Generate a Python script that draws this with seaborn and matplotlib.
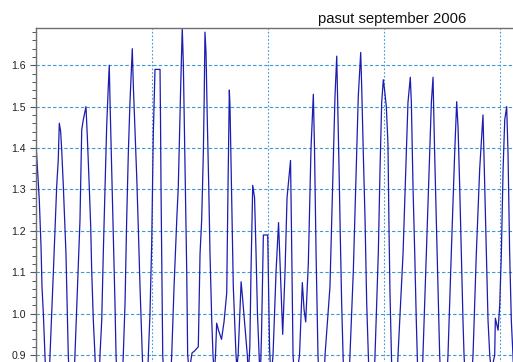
import matplotlib
matplotlib.use("Agg")
import matplotlib.pyplot as plt
from matplotlib.ticker import MultipleLocator, NullFormatter
import seaborn as sns
import pandas as pd

# ---- data (hours since 1 Sep 2006, water level in m) ----
hours = [0, 1.3, 3.4, 5.2, 6.2, 7.6, 9.3, 11.9, 14.5, 17.9, 21.4, 23.0, 24.1, 25.5, 26.6, 28.3,
         29.7, 31.0, 32.4, 33.4, 36.9, 40.3, 45.5, 47.3, 48.9, 51.7, 53.1, 55.1, 56.6, 57.6,
         59.3, 61.0, 63.6, 66.2, 68.0, 69.6, 71.4, 73.1, 74.8, 75.8, 76.6, 78.3, 80.0, 81.7,
         82.8, 86.5, 90.3, 92.1, 93.8, 95.5, 97.2, 99.6, 100.7, 104.2, 105.8, 107.6, 110.0,
         113.0, 116.2, 117.9, 119.7, 121.3, 123.1, 128.3, 128.8, 129.3, 130.0, 131.1, 135.8,
         140.4, 142.8, 145.6, 147.2, 149.7, 151.3, 152.4, 153.4, 154.5, 155.9, 156.9, 158.5,
         161.4, 164.5, 167.9, 169.7, 171.4, 173.1, 174.0, 174.8, 175.9, 177.2, 178.7, 180.0,
         181.8, 183.1, 184.4, 185.7, 186.9, 188.8, 191.9, 194.5, 197.3, 198.6, 200.0, 200.7,
         201.7, 202.8, 204.1, 206.9, 207.8, 209.1, 212.2, 213.6, 215.7, 218.6, 219.6, 221.2,
         222.4, 224.2, 226.1, 227.6, 229.1, 230.7, 232.0, 233.3, 235.2, 239.7, 240.3, 241.6,
         243.0, 245.2, 248.3, 250.9, 252.5, 255.2, 257.6, 259.7, 261.7, 263.3, 264.3, 265.9,
         268.0, 272.6, 275.5, 277.3, 279.0, 281.7, 284.5, 286.9, 288.1, 289.7, 291.7, 295.5,
         299.0, 304.1, 305.9, 307.6, 309.3, 311.1, 312.1, 313.5, 314.8, 316.2, 317.6, 321.0,
         324.8, 328.3, 331.8, 333.4, 335.9, 336.9, 338.6, 340.4, 342.1, 343.8, 347.0, 350.7,
         354.1, 355.9, 357.6, 359.3, 360.6, 362.4, 364.1, 365.2, 366.2, 367.6, 371.0, 374.5,
         379.7, 383.1, 384.8, 387.2, 388.3, 390.0, 391.8, 393.4, 394.4, 397.0, 400.3, 403.8,
         407.3, 409.0, 410.7, 412.4, 414.1, 415.9, 417.6, 421.5, 426.2, 429.6, 433.1, 435.2,
         436.6, 438.3, 440.0, 441.7, 442.8, 447.0, 452.1, 455.5, 459.0, 462.4, 464.2, 465.9,
         467.6, 469.4, 471.0, 474.5, 475.2, 478.0, 479.7, 481.4, 483.2, 484.9, 486.9, 488.3,
         490.0, 491.7, 493.4, 496.0]
level = [1.41, 1.36, 1.275, 1.162, 1.065, 1.0, 0.9, 0.72, 0.9, 1.097, 1.307, 1.371, 1.46, 1.44, 1.395, 1.307,
         1.226, 1.145, 1.0, 0.9, 0.7, 0.9, 1.226, 1.444, 1.468, 1.50, 1.427, 1.307, 1.21, 1.105,
         0.984, 0.9, 0.7, 0.9, 0.984, 1.145, 1.307, 1.452, 1.55, 1.60, 1.51, 1.35, 1.186, 1.025,
         0.9, 0.68, 0.9, 1.025, 1.226, 1.387, 1.51, 1.64, 1.55, 1.33, 1.21, 1.065, 0.9,
         0.66, 0.9, 1.0, 1.17, 1.43, 1.59, 1.59, 1.47, 1.31, 1.145, 0.9, 0.66,
         0.9, 1.065, 1.226, 1.307, 1.55, 1.69, 1.605, 1.468, 1.307, 1.105, 0.9, 0.86,
         0.905, 0.911, 0.92, 1.145, 1.227, 1.387, 1.52, 1.68, 1.63, 1.468, 1.307, 1.145,
         0.984, 0.9, 0.85, 0.9, 0.977, 0.96, 0.938, 0.98, 1.05, 1.3, 1.54, 1.50,
         1.371, 1.226, 1.065, 0.9, 0.87, 0.9, 1.077, 1.04, 0.98, 0.9, 0.85, 0.92,
         1.1, 1.31, 1.28, 1.15, 1.0, 0.9, 0.84, 0.95, 1.19, 1.19, 1.1, 0.92,
         0.84, 0.9, 1.1, 1.22, 1.12, 0.95, 1.1, 1.28, 1.33, 1.37, 1.2, 0.9,
         0.82, 0.9, 1.075, 1.01, 0.98, 1.12, 1.4, 1.53, 1.4, 1.15, 0.9, 0.68,
         0.9, 1.065, 1.226, 1.387, 1.525, 1.622, 1.51, 1.35, 1.186, 1.025, 0.9, 0.66,
         0.9, 1.105, 1.387, 1.525, 1.631, 1.55, 1.387, 1.226, 1.025, 0.9, 0.66, 0.9,
         1.145, 1.35, 1.51, 1.565, 1.54, 1.5, 1.41, 1.2, 1.05, 0.9, 0.66, 0.9,
         1.145, 1.387, 1.51, 1.571, 1.51, 1.307, 1.145, 0.984, 0.9, 0.68, 0.9, 1.145,
         1.387, 1.51, 1.571, 1.387, 1.226, 1.065, 0.9, 0.68, 0.9, 1.145, 1.387, 1.512,
         1.45, 1.307, 1.145, 0.984, 0.9, 0.7, 0.9, 1.145, 1.35, 1.48, 1.307, 1.145,
         0.984, 0.9, 0.86, 0.9, 0.989, 0.96, 1.02, 1.145, 1.35, 1.468, 1.50, 1.387,
         1.145, 0.984, 0.9, 0.7]
title_text = "pasut september 2006"
y_major_ticks = [0.9, 1.0, 1.1, 1.2, 1.3, 1.4, 1.5, 1.6]
y_tick_labels = ["0.9", "1.0", "1.1", "1.2", "1.3", "1.4", "1.5", "1.6"]
x_grid_hours = [0, 120, 240, 360, 480, 600, 720]

df = pd.DataFrame({"hour": hours, "level": level})

sns.set_theme(style="white")
plt.rcParams["font.family"] = ["Liberation Sans", "DejaVu Sans"]

W, H = 513, 362
fig = plt.figure(figsize=(W / 100, H / 100), dpi=100)

# axes extends beyond the right and bottom edges of the picture (cropped original)
px_per_hour = 116 / 120
px_per_unit = 414.0
ylo, yhi = 0.5, 1.69
xlo, xhi = 0, 744
ax_left, ax_top = 36, 28
ax_w = (xhi - xlo) * px_per_hour
ax_h = (yhi - ylo) * px_per_unit
ax = fig.add_axes([ax_left / W, (H - ax_top - ax_h) / H, ax_w / W, ax_h / H])

sns.lineplot(data=df, x="hour", y="level", ax=ax, color="#1c1cb0", linewidth=0.9, sort=False)

ax.set_xlim(xlo, xhi)
ax.set_ylim(ylo, yhi)
ax.set_xlabel("")
ax.set_ylabel("")

ax.set_yticks(y_major_ticks)
ax.set_yticklabels(y_tick_labels)
ax.yaxis.set_minor_locator(MultipleLocator(0.02))
ax.set_xticks(x_grid_hours)
ax.xaxis.set_major_formatter(NullFormatter())

ax.tick_params(axis="y", which="major", length=4, width=0.8, color="#555555",
               labelsize=7.6, labelcolor="#222222", pad=3.2, direction="out", left=True)
ax.tick_params(axis="y", which="minor", length=2.6, width=0.7, color="#555555", left=True)
ax.tick_params(axis="x", which="both", length=0, bottom=False)

ax.yaxis.grid(True, which="major", color="#3f98d4", linestyle=(0, (3, 2)), linewidth=0.8)
ax.xaxis.grid(True, which="major", color="#3f98d4", linestyle=(0, (1.5, 1.8)), linewidth=0.8)
ax.set_axisbelow(True)

for side in ["left", "top"]:
    ax.spines[side].set_visible(True)
    ax.spines[side].set_color("#707070")
    ax.spines[side].set_linewidth(1.0)
for side in ["right", "bottom"]:
    ax.spines[side].set_visible(False)

ax.set_title(title_text, fontsize=10.7, x=(392.5 - ax_left) / ax_w, pad=3.5, color="#111111")

fig.savefig("out.png", dpi=100)
